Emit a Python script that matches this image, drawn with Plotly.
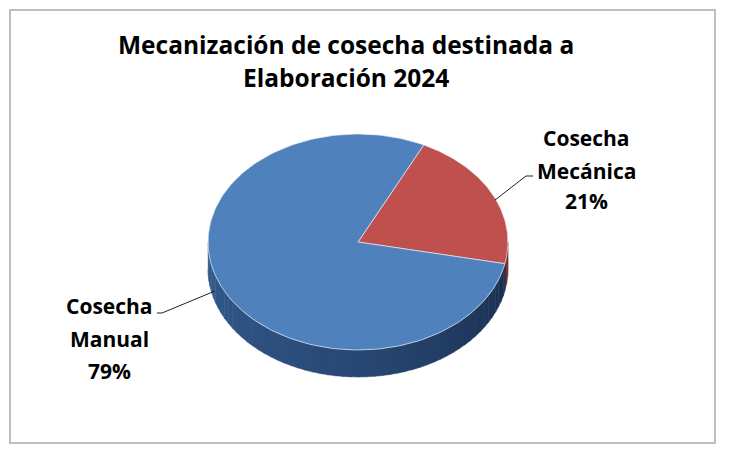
import numpy as np
import plotly.graph_objects as go

# ---------------- data ----------------
categories = ["Cosecha Mecánica", "Cosecha Manual"]
values = [21, 79]
title_lines = ["Mecanización de cosecha destinada a", "Elaboración 2024"]

# ---------------- style / layout ----------------
W, H = 730, 459
OFF = 8  # page body margin; axes are set so that data units == page pixels
CX, CY, RX, RY, DEPTH = 358, 242, 150, 108, 27
START = 64  # angle (deg, counter-clockwise from +x) where first slice starts; slices run clockwise
top_colors = ["#C0504D", "#4F81BD"]
FONT = "Open Sans"

def lerp(c1, c2, t):
    return tuple(c1[i] + (c2[i] - c1[i]) * t for i in range(3))

def side_color(idx, ang):
    f = ((ang % 360) - 180) / 180.0
    f = min(max(f, 0), 1)
    if idx == 1:
        left, mid, right = (52, 92, 142), (40, 72, 116), (24, 44, 74)
    else:
        left, mid, right = (150, 58, 55), (130, 48, 46), (100, 36, 35)
    c = lerp(left, mid, f / 0.5) if f < 0.5 else lerp(mid, right, (f - 0.5) / 0.5)
    return "rgb(%d,%d,%d)" % c

def ex(a):
    return CX + RX * np.cos(np.radians(a))

def ey(a):
    return CY - RY * np.sin(np.radians(a))

total = float(sum(values))
bounds = []
a = START
for v in values:
    span = 360.0 * v / total
    bounds.append((a - span, a))
    a -= span

fig = go.Figure()

# ---- sides (visible lower half) ----
for i, (lo, hi) in enumerate(bounds):
    for k in (-2, -1, 0, 1):
        s0, s1 = max(lo, k * 360 - 180), min(hi, k * 360)
        if s1 - s0 <= 0.01:
            continue
        n = max(2, int((s1 - s0) / 3))
        edges = np.linspace(s0, s1, n + 1)
        for j in range(n):
            t = np.linspace(edges[j], edges[j + 1] + 0.3 * (j < n - 1), 6)
            xs = list(ex(t)) + list(ex(t[::-1]))
            ys = list(ey(t)) + list(ey(t[::-1]) + DEPTH)
            col = side_color(i, (edges[j] + edges[j + 1]) / 2)
            fig.add_trace(go.Scatter(x=xs, y=ys, fill="toself", mode="lines",
                                     line=dict(color=col, width=0.5), fillcolor=col,
                                     hoverinfo="skip", showlegend=False))

# ---- top faces ----
for i, (lo, hi) in enumerate(bounds):
    t = np.linspace(hi, lo, 200)
    xs = [CX] + list(ex(t)) + [CX]
    ys = [CY] + list(ey(t)) + [CY]
    fig.add_trace(go.Scatter(x=xs, y=ys, fill="toself", mode="lines",
                             line=dict(color="rgba(230,235,245,0.7)", width=1),
                             fillcolor=top_colors[i], name=categories[i],
                             hoverinfo="skip", showlegend=False))

# ---- leader lines ----
fig.add_trace(go.Scatter(x=[495, 526, 533], y=[200, 176, 176], mode="lines",
                         line=dict(color="#222", width=1), hoverinfo="skip", showlegend=False))
fig.add_trace(go.Scatter(x=[157, 162, 215], y=[313, 313, 291], mode="lines",
                         line=dict(color="#222", width=1), hoverinfo="skip", showlegend=False))

annotations = []
for txt, y in zip(title_lines, [44, 77]):
    annotations.append(dict(x=346, y=y, text="<b>%s</b>" % txt, showarrow=False,
                            xref="x", yref="y", xanchor="center", yanchor="middle",
                            font=dict(family=FONT, size=24.5, color="#000")))

label_pos = [(586, [138, 171, 201]), (109, [306, 339, 371])]
for i, cat in enumerate(categories):
    pct = "%d%%" % round(100 * values[i] / total)
    lines = cat.split(" ") + [pct]
    lx, lys = label_pos[i]
    for txt, y in zip(lines, lys):
        annotations.append(dict(x=lx, y=y, text="<b>%s</b>" % txt, showarrow=False,
                                xref="x", yref="y", xanchor="center", yanchor="middle",
                                font=dict(family=FONT, size=21, color="#000")))

fig.update_layout(
    width=W - OFF, height=H - OFF, margin=dict(l=0, r=0, t=0, b=0),
    paper_bgcolor="white", plot_bgcolor="white",
    xaxis=dict(range=[OFF, W], visible=False, fixedrange=True),
    yaxis=dict(range=[H, OFF], visible=False, fixedrange=True),
    annotations=annotations,
    shapes=[dict(type="rect", xref="x", yref="y", x0=10, y0=10, x1=715, y1=443,
                 line=dict(color="#BFBFBF", width=2), fillcolor="rgba(0,0,0,0)")],
)

fig.write_html("out.html")
